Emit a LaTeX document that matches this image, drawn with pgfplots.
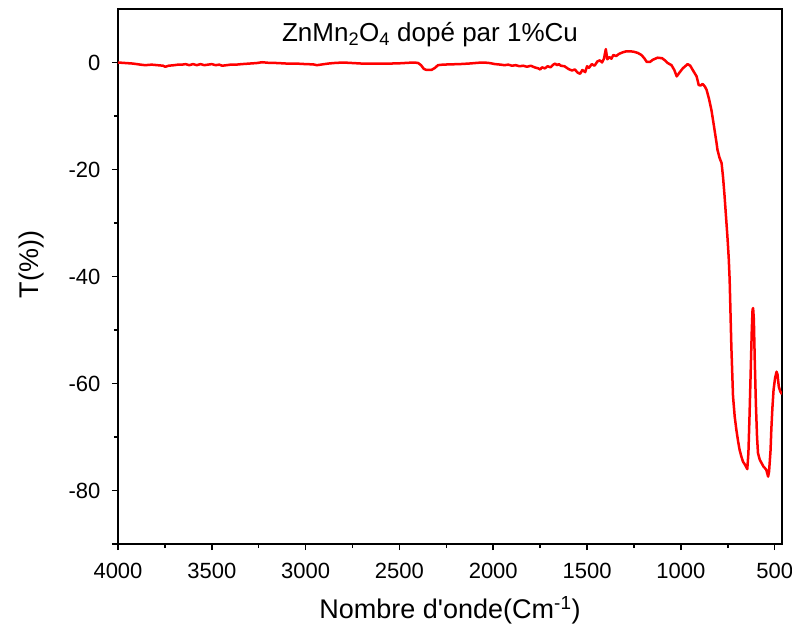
\documentclass[border=0pt]{standalone}
\usepackage{fontspec}
\setmainfont{Liberation Sans}
\usepackage{pgfplots}
\pgfplotsset{compat=1.18}
\begin{document}
\begin{tikzpicture}
\begin{axis}[
  scale only axis, width=664pt, height=535pt,
  x dir=reverse, xmin=461, xmax=4000, ymin=-90, ymax=10,
  xtick={500,1000,...,4000}, minor xtick={750,1250,...,3750},
  ytick={-80,-60,...,0}, minor ytick={-70,-50,...,-10},
  extra y ticks={-90}, extra y tick labels={},
  tick align=outside, xtick pos=lower, ytick pos=left,
  major tick length=6pt, minor tick length=4pt,
  axis line style={line width=1.5pt},
  tick style={black, line width=1.5pt},
  /pgf/number format/assume math mode=true,
  /pgf/number format/set thousands separator={},
  ticklabel style={font=\fontsize{22}{26}\selectfont},
  xticklabel style={yshift=-10pt},
  yticklabel style={xshift=-8pt},
  xlabel={Nombre d\textquotesingle onde(Cm\textsuperscript{-1})},
  ylabel={T(\%))},
  label style={font=\fontsize{27}{32}\selectfont},
  xlabel style={at={(axis description cs:0.5,-0.123)}, anchor=center},
  ylabel style={at={(axis description cs:-0.13,0.522)}, anchor=center},
]
\addplot[red, line width=2.5pt, line join=round] coordinates {
(4000,0) (3960,-0.1) (3920,-0.2) (3880,-0.4) (3855,-0.5) (3820,-0.4) (3790,-0.5)
(3760,-0.6) (3748,-0.8) (3730,-0.6) (3700,-0.5) (3680,-0.4) (3658,-0.4) (3640,-0.3)
(3620,-0.5) (3600,-0.3) (3580,-0.5) (3560,-0.3) (3540,-0.5) (3520,-0.4) (3500,-0.3)
(3480,-0.5) (3460,-0.4) (3445,-0.6) (3420,-0.5) (3400,-0.4) (3370,-0.4) (3340,-0.3)
(3300,-0.2) (3260,-0.1) (3232,0.05) (3200,-0.05) (3150,-0.1) (3100,-0.2) (3050,-0.2)
(3000,-0.3) (2960,-0.35) (2940,-0.5) (2920,-0.4) (2880,-0.2) (2850,-0.1) (2800,0.0)
(2750,-0.1) (2700,-0.2) (2650,-0.2) (2600,-0.2) (2550,-0.2) (2500,-0.15) (2450,-0.05)
(2420,0.0) (2400,-0.1) (2385,-0.5) (2370,-1.2) (2355,-1.4) (2330,-1.4) (2310,-1.0)
(2295,-0.5) (2270,-0.4) (2230,-0.35) (2180,-0.3) (2130,-0.2) (2080,-0.05) (2050,0.0)
(2020,-0.1) (1990,-0.3) (1960,-0.4) (1940,-0.5) (1920,-0.4) (1900,-0.6) (1880,-0.5)
(1860,-0.7) (1840,-0.6) (1820,-0.8) (1800,-0.6) (1780,-0.9) (1760,-1.1) (1750,-1.3)
(1740,-0.9) (1725,-1.1) (1710,-0.7) (1695,-0.9) (1680,-0.4) (1670,-0.2) (1660,-0.5)
(1650,-0.3) (1640,-0.6) (1620,-0.7) (1600,-1.2) (1580,-1.5) (1565,-1.3) (1550,-1.9)
(1537,-2.1) (1525,-1.4) (1510,-1.8) (1500,-0.7) (1490,-1.0) (1475,-0.3) (1460,-0.6)
(1445,0.2) (1432,0.4) (1420,0.0) (1410,0.7) (1400,2.5) (1392,0.6) (1380,1.0)
(1370,0.7) (1360,1.4) (1345,1.2) (1330,1.6) (1310,1.9) (1290,2.1) (1270,2.1)
(1250,2.0) (1230,1.8) (1210,1.4) (1195,0.8) (1182,0.1) (1165,0.1) (1150,0.5)
(1124,0.9) (1100,0.8) (1085,0.4) (1070,-0.1) (1050,-0.5) (1035,-1.4) (1022,-2.6)
(1010,-2.0) (990,-1.1) (964,-0.3) (950,-0.6) (935,-1.5) (916,-2.6) (905,-4.2)
(895,-4.3) (884,-4.0) (872,-4.5) (863,-5.1) (850,-6.8) (837,-8.9) (824,-11.8)
(810,-15.0) (805,-16.3) (794,-17.8) (783,-18.8) (775,-21.5) (767,-25) (758,-29.5)
(751,-33) (745,-36.5) (740,-40.6) (731,-53) (722,-62.4) (713,-66.2) (704,-68.7)
(695,-70.8) (687,-72.4) (678,-73.6) (669,-74.6) (658,-75.2) (646,-76.0)
(640,-73) (634,-66) (628,-58) (622,-50) (618,-46.2) (615,-45.9) (611,-48)
(606,-56) (600,-64) (594,-70) (589,-73) (580,-74.2) (571,-74.8) (560,-75.5)
(545,-76.1) (535,-77.4) (530,-76.5) (522,-72.5) (518,-68.7) (512,-64.5)
(506,-61.2) (498,-59) (490,-57.8) (485,-58.3) (478,-60.6) (470,-61.5) (461,-62)
};
\node[font=\fontsize{26}{30}\selectfont] at (axis cs:2337,5.2) {ZnMn\textsubscript{2}O\textsubscript{4} dopé par 1\%Cu};
\end{axis}
\pgfresetboundingbox
\path ([shift={(-118pt,-90pt)}]current axis.south west) rectangle ([shift={(10pt,9pt)}]current axis.north east);
\end{tikzpicture}
\end{document}
